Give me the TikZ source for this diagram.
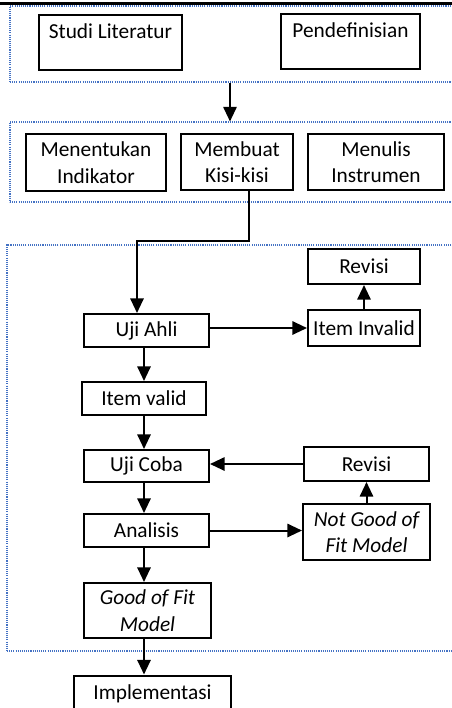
\documentclass[tikz,border=0pt]{standalone}
\usepackage{fontspec}
\setmainfont{Carlito}
\usepackage{tikz}
\usetikzlibrary{arrows.meta, positioning, calc}
\definecolor{grpblue}{RGB}{68,114,196}
\tikzset{
	block/.style={rectangle, draw, line width=1.5pt, align=center, inner sep=1pt, font=\fontsize{16}{20}\selectfont},
	boxsize/.style 2 args={minimum width=#1*0.75pt, minimum height=#2*0.75pt},
	group/.style={rectangle, draw=grpblue, line width=0.8pt, dash pattern=on 0.8pt off 0.8pt, inner sep=0pt},
	line/.style={draw, line width=1.5pt, -{Triangle[length=11pt, width=10pt]}}
}

\begin{document}
\begin{tikzpicture}[x=0.75pt, y=-0.75pt]
	\useasboundingbox (0,0) rectangle (452,708);
	% page rule
	\draw[line width=2pt] (0,3.5) -- (452,3.5);
	
	% dotted groups
	\node[group, boxsize={448}{76}] (grp1) at (234,44) {};
	\node[group, boxsize={448}{80}] (grp2) at (234,162) {};
	\node[group, boxsize={451}{406}] (grp3) at (232.5,448) {};
	
	% first stage
	\node[block, boxsize={143}{55}] (lit) at (110.5,42.5) {Studi Literatur\\[-9pt] \strut};
	\node[block, boxsize={139}{55}] (pend) at (350.5,41.5) {Pendefinisian\\[-9pt] \strut};
	
	% second stage
	\node[block, boxsize={140}{57}] (ind) at (96,162.5) {Menentukan\\Indikator};
	\node[block, boxsize={112}{56}] (kisi) at (237,162) {Membuat\\Kisi-kisi};
	\node[block, boxsize={136}{56}] (ins) at (376,162) {Menulis\\Instrumen};
	
	% third stage
	\node[block, boxsize={112}{35}] (rev1) at (364,266.5) {Revisi};
	\node[block, boxsize={112}{36}] (inv) at (364,328) {Item Invalid};
	\node[block, boxsize={125}{33}] (uji) at (146.5,330.5) {Uji Ahli};
	\node[block, boxsize={124}{33}] (valid) at (144,398.5) {Item valid};
	\node[block, boxsize={125}{32}] (coba) at (146.5,466) {Uji Coba};
	\node[block, boxsize={125}{34}] (rev2) at (366.5,464) {Revisi};
	\node[block, boxsize={125}{33}] (anal) at (146.5,530.5) {Analisis};
	\node[block, boxsize={127}{56}] (notg) at (366.5,532) {\itshape Not Good of\\\itshape Fit Model};
	\node[block, boxsize={127}{55}] (good) at (147.5,610.5) {\itshape Good of Fit\\\itshape Model};
	\node[block, boxsize={157}{55}] (impl) at (152.5,703) {Implementasi\\[-9pt] \strut};
	
	% connectors
	\coordinate (g1) at ($(grp1.south)+(-4,0)$);
	\draw[line] (g1) -- (g1 |- grp2.north);
	\draw[line] ($(kisi.south)+(12,0)$) -- ++(0,50) -| ($(uji.north)+(-9.5,0)$);
	\draw[line] (uji.east |- inv.west) -- (inv.west);
	\draw[line] (inv.north) -- (rev1.south);
	\draw[line] (uji.south -| valid) -- (valid.north);
	\draw[line] (valid.south) -- (valid.south |- coba.north);
	\draw[line] (rev2.west) -- (rev2.west -| coba.east);
	\draw[line] (coba.south -| valid) -- (anal.north -| valid);
	\draw[line] (anal.east) -- (anal.east -| notg.west);
	\draw[line] (notg.north) -- (rev2.south);
	\draw[line] (anal.south -| valid) -- (good.north -| valid);
	\draw[line] (good.south -| valid) -- (impl.north -| valid);
\end{tikzpicture}
\end{document}
